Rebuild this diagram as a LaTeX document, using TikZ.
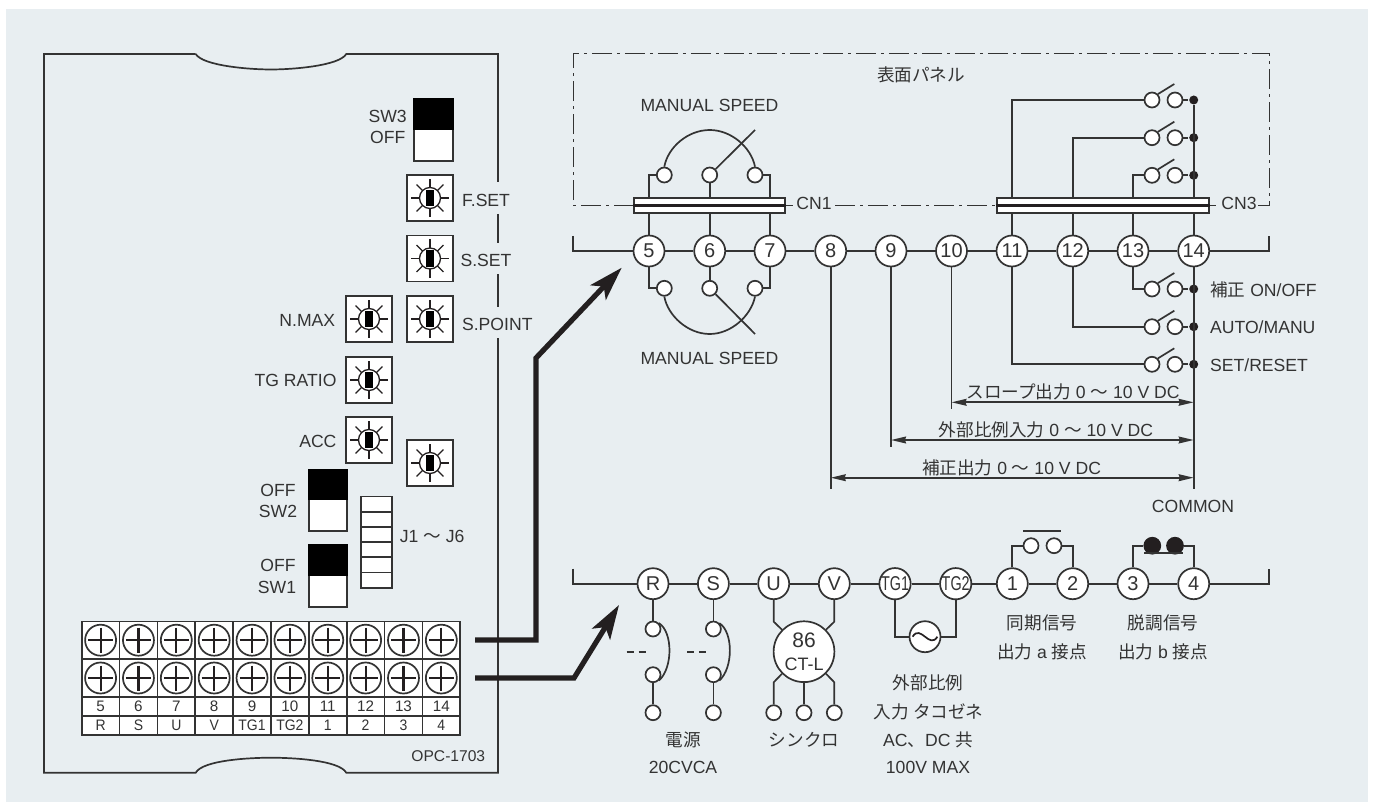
\documentclass[tikz,border=0pt]{standalone}
\usepackage{fontspec}
\usepackage{tikz}
\usetikzlibrary{arrows.meta}
\setmainfont{Liberation Sans}
\newfontfamily\jp{Noto Sans CJK JP}

\definecolor{panelbg}{HTML}{E8EEF1}
\definecolor{wire}{HTML}{333333}
\definecolor{solid}{HTML}{231F20}

\tikzset{
    txt/.style={inner sep=0pt, text=wire, font=\fontsize{8.8}{10}\selectfont},
    term/.style={circle, draw=wire, fill=white, inner sep=0pt, minimum size=15.5pt, text=wire, font=\fontsize{10}{11}\selectfont},
    pin/.style={circle, draw=wire, fill=white, inner sep=0pt, minimum size=7.5pt},
    blackpin/.style={circle, draw=solid, fill=solid, inner sep=0pt, minimum size=8pt},
    joint/.style={circle, fill=solid, inner sep=0pt, minimum size=4.5pt},
    bar/.style={rectangle, draw=wire, fill=white, inner sep=0pt, minimum height=7.5pt},
    cell/.style={rectangle, draw=wire, fill=white, inner sep=0pt, text=wire, minimum width=18.93pt, font=\fontsize{7.6}{8}\selectfont},
    knobbox/.style={rectangle, draw=wire, fill=white, inner sep=0pt, minimum size=23pt},
    dial/.style={circle, draw=solid, line width=.65pt, fill=white, inner sep=0pt, minimum size=10.5pt},
    link/.style={draw=wire},
    bigarrow/.style={draw=solid, line width=2.6pt, -{Stealth[length=17pt, width=10.5pt, inset=4pt]}},
    dim/.style={draw=wire, {Stealth[length=7.5pt, width=3.4pt, inset=.5pt]}-{Stealth[length=7.5pt, width=3.4pt, inset=.5pt]}},
    panelline/.style={draw=wire, line width=.5pt, dash pattern=on 10pt off 2.5pt on 1.5pt off 2.5pt},
}

\newcommand{\knob}[2]{
    \node[knobbox] (#1) at (#2) {};
    \foreach \a in {0,45,...,315}
        \draw[draw=solid, line width=.6pt] (#1) ++(\a:10) -- ++(\a:9);
    \node[dial] (#1d) at (#2) {};
    \fill[solid] (#1) ++(-4,-8) rectangle ++(8,16);
}
\newcommand{\dipsw}[3]{
    \node[rectangle, draw=wire, fill=white, inner sep=0pt, minimum width=19.2pt, minimum height=30.8pt] (#1) at (#2,#3) {};
    \fill[solid] (#1.north west) rectangle ([yshift=-15.6pt]#1.north east);
}
\newcommand{\sw}[3]{
    \node[pin] (#1a) at (1152,#3) {};
    \node[pin] (#1b) at (1175,#3) {};
    \node[joint] (#1c) at (1193.7,#3) {};
    \coordinate (#1l) at (1174.3,#3-16);
    \draw[link] (#1a.north east) -- (#1l);
    \draw[link] (#1b) -- (#1c);
    \draw[link] (t#2) |- (#1a);
}

\begin{document}
\begin{tikzpicture}[x=.5pt, y=-.5pt, line width=.85pt]
        \useasboundingbox (0, 0) rectangle (1375, 802);
        \fill[white] (0, 0) rectangle (1375, 802);
        \fill[panelbg] (6, 9) rectangle (1367.7, 802);

        \draw[link] (195.7, 54) -- (44, 54) -- (44, 772.7) -- (195.7, 772.7) .. controls (203, 760) and (250, 757.7) .. (271, 757.7) .. controls (292, 757.7) and (339, 760) .. (346.3, 772.7) -- (498, 772.7) -- (498, 338);
        \draw[link] (195.7, 54) .. controls (203, 66) and (250, 69.5) .. (271, 69.5) .. controls (292, 69.5) and (339, 66) .. (346.3, 54) -- (498, 54) -- (498, 182);
        \draw[link] (498, 214) -- (498, 242.7);
        \draw[link] (498, 274) -- (498, 306.7);

        \dipsw{swc}{433.5}{130}
        \dipsw{swb}{328}{500.5}
        \dipsw{swa}{328}{576}
        \knob{fset}{430, 198}
        \knob{sset}{430, 258.5}
        \knob{spoint}{430, 319}
        \knob{nmax}{369, 319}
        \knob{tgratio}{369, 380}
        \knob{acc}{369, 440}
        \knob{spare}{430, 463}
        \node[txt] (lswc) at (387.7, 116.7) {SW3};
        \node[txt] (loffc) at (387.7, 137.7) {OFF};
        \node[txt] (lfset) at (486, 200) {F.SET};
        \node[txt] (lsset) at (486, 260) {S.SET};
        \node[txt] (lspoint) at (497.3, 324) {S.POINT};
        \node[txt, anchor=east] (lnmax) at (336, 320.7) {N.MAX};
        \node[txt, anchor=east] (ltgratio) at (337.3, 380.7) {TG RATIO};
        \node[txt, anchor=east] (lacc) at (337.3, 441.7) {ACC};
        \node[txt] (loffb) at (278, 490.7) {OFF};
        \node[txt] (lswb) at (278, 511.7) {SW2};
        \node[txt] (loffa) at (278, 565.7) {OFF};
        \node[txt] (lswa) at (277, 587.3) {SW1};
        \foreach \i in {0,...,5}
            \node[cell, minimum width=15.5pt, minimum height=7.6pt] (jump\i) at (376.8, 504.1 + 15.2 * \i) {};
        \node[txt, anchor=west] (ljump) at (399, 536) {J1 {\jp 〜} J6};

        \foreach \i/\a/\b in {0/5/R, 1/6/S, 2/7/U, 3/8/V, 4/9/TG1, 5/10/TG2, 6/11/1, 7/12/2, 8/13/3, 9/14/4} {
            \node[cell, minimum height=18.85pt] (screwa\i) at (100.6 + 37.86 * \i, 640.2) {};
            \node[cell, minimum height=18.95pt] (screwb\i) at (100.6 + 37.86 * \i, 678) {};
            \node[cell, minimum height=9.35pt] (num\i) at (100.6 + 37.86 * \i, 706.4) {\a};
            \node[cell, minimum height=9.65pt] (sig\i) at (100.6 + 37.86 * \i, 725.4) {\scalebox{.92}[1]{\b}};
            \foreach \r in {a,b} {
                \draw[draw=wire] (screw\r\i) circle [radius=15.5];
                \draw[draw=solid, line width=1.1pt] (screw\r\i) ++(-12.5, 0) -- ++(25, 0);
                \draw[draw=solid, line width=1.1pt] (screw\r\i) ++(0, -12.5) -- ++(0, 25);
            }
        }
        \node[txt, font=\fontsize{7.8}{8}\selectfont, anchor=east] (lopc) at (486, 756) {OPC-1703};

        \coordinate (upa) at (475, 640);
        \coordinate (upb) at (536, 640);
        \coordinate (upc) at (536, 358);
        \coordinate (upd) at (621.7, 267.7);
        \coordinate (loa) at (475, 678);
        \coordinate (lob) at (574, 678);
        \coordinate (loc) at (619, 605);
        \draw[bigarrow] (upa) -- (upb) -- (upc) -- (upd);
        \draw[bigarrow] (loa) -- (lob) -- (loc);

        \draw[panelline] (633.7, 205.5) -- (573, 205.5) -- (573, 54) -- (1269.3, 54) -- (1269.3, 205.5) -- (1258, 205.5);
        \draw[panelline] (785.3, 205.5) -- (792.5, 205.5);
        \draw[panelline] (835, 205.5) -- (996.7, 205.5);
        \draw[panelline] (1208.7, 205.5) -- (1216, 205.5);
        \node[txt] (lpanel) at (921, 75) {\jp 表面パネル};

        \foreach \n/\x in {5/649, 6/709.7, 7/770, 8/830.7, 9/891, 10/951.5, 11/1012, 12/1072.7, 13/1133, 14/1193.7}
            \node[term] (t\n) at (\x, 251) {\n};
        \coordinate (ra) at (573, 236);
        \coordinate (rb) at (573, 251);
        \coordinate (rc) at (1269.3, 251);
        \coordinate (rd) at (1269.3, 236);
        \draw[link] (ra) -- (rb) -- (t5);
        \foreach \a/\b in {5/6, 6/7, 7/8, 8/9, 9/10, 10/11, 11/12, 12/13, 13/14}
            \draw[link] (t\a) -- (t\b);
        \draw[link] (t14) -- (rc) -- (rd);

        \foreach \s/\y in {u/175, d/288.3} {
            \node[pin] (p5\s) at (664.3, \y) {};
            \node[pin] (p6\s) at (709.7, \y) {};
            \node[pin] (p7\s) at (755, \y) {};
            \draw[link] (t5) |- (p5\s);
            \draw[link] (t6) -- (p6\s);
            \draw[link] (t7) |- (p7\s);
        }
        \coordinate (wu) at (755, 130);
        \coordinate (wd) at (755, 334);
        \draw[link] (p5u.north) .. controls (668, 147) and (688, 130) .. (709.7, 130) .. controls (731, 130) and (751, 147) .. (p7u.north);
        \draw[link] (p5d.south) .. controls (668, 316) and (688, 334) .. (709.7, 334) .. controls (731, 334) and (751, 316) .. (p7d.south);
        \draw[link] (p6u.north east) -- (wu);
        \draw[link] (p6d.south east) -- (wd);
        \node[txt] (lmanu) at (709.5, 105) {MANUAL SPEED};
        \node[txt] (lmand) at (709.5, 358) {MANUAL SPEED};

        \sw{ka}{11}{100}
        \sw{kb}{12}{137.7}
        \sw{kc}{13}{175.3}
        \sw{kd}{13}{289}
        \sw{ke}{12}{326.7}
        \sw{kf}{11}{364.3}
        \coordinate (com) at (1193.7, 488.7);
        \draw[link] (t14) -- (kac);
        \draw[link] (t14) -- (com);

        \node[bar, minimum width=75.8pt] (cna) at (709.5, 205.5) {};
        \node[bar, minimum width=106pt] (cnc) at (1102.7, 205.5) {};
        \draw[draw=solid, line width=1.1pt] (cna.west) -- (cna.east);
        \draw[draw=solid, line width=1.1pt] (cnc.west) -- (cnc.east);
        \node[txt] (lcna) at (814, 203) {CN1};
        \node[txt] (lcnc) at (1239, 203) {CN3};
        \node[txt, anchor=west] (lka) at (1209.3, 290) {{\jp 補正} ON/OFF};
        \node[txt, anchor=west] (lkb) at (1209.3, 327.7) {AUTO/MANU};
        \node[txt, anchor=west] (lkc) at (1209.3, 365.7) {SET/RESET};

        \coordinate (e10) at (951.5, 409.3);
        \coordinate (e9) at (891, 447.3);
        \coordinate (e8) at (830.7, 488.7);
        \draw[link] (t10) -- (e10);
        \draw[link] (t9) -- (e9);
        \draw[link] (t8) -- (e8);
        \coordinate (da) at (951.5, 402.3);
        \coordinate (db) at (1193.7, 402.3);
        \coordinate (dc) at (891, 440);
        \coordinate (dd) at (1193.7, 440);
        \coordinate (de) at (830.7, 477.7);
        \coordinate (df) at (1193.7, 477.7);
        \draw[dim] (da) -- (db);
        \draw[dim] (dc) -- (dd);
        \draw[dim] (de) -- (df);
        \node[txt] (lda) at (1073, 392) {{\jp スロープ出力} 0 {\jp 〜} 10 V DC};
        \node[txt] (ldb) at (1046, 430) {{\jp 外部比例入力} 0 {\jp 〜} 10 V DC};
        \node[txt] (ldc) at (1011.5, 468) {{\jp 補正出力} 0 {\jp 〜} 10 V DC};
        \node[txt] (lcom) at (1193, 506) {COMMON};

        \foreach \n/\x/\t in {R/653/R, S/713.4/S, U/773.7/U, V/834.3/V, A/895/\scalebox{.72}[1]{TG1}, B/955.7/\scalebox{.72}[1]{TG2}, a/1012.3/1, b/1072.7/2, c/1133/3, d/1193.7/4}
            \node[term] (b\n) at (\x, 583.7) {\t};
        \coordinate (sa) at (573, 568.7);
        \coordinate (sb) at (573, 583.7);
        \coordinate (sc) at (1269.3, 583.7);
        \coordinate (sd) at (1269.3, 568.7);
        \draw[link] (sa) -- (sb) -- (bR);
        \foreach \a/\b in {R/S, S/U, U/V, V/A, A/B, B/a, a/b, b/c, c/d}
            \draw[link] (b\a) -- (b\b);
        \draw[link] (bd) -- (sc) -- (sd);

        \foreach \n/\x in {R/653, S/713.4} {
            \node[pin] (f\n a) at (\x, 629) {};
            \node[pin] (f\n b) at (\x, 674.7) {};
            \node[pin] (f\n c) at (\x, 712.7) {};
            \draw[link] (b\n) -- (f\n a);
            \draw[link] (f\n b) -- (f\n c);
            \draw[link] (f\n a.north east) .. controls (\x + 20, 632) and (\x + 20, 668) .. (f\n b.south east);
            \coordinate (g\n a) at (\x - 26.3, 651.7);
            \coordinate (g\n b) at (\x - 7.3, 651.7);
            \draw[draw=wire, dash pattern=on 3.6pt off 2.3pt] (g\n a) -- (g\n b);
        }

        \node[circle, draw=wire, fill=white, inner sep=0pt, minimum size=30.4pt, align=center, text=wire, font=\fontsize{9}{11.5}\selectfont] (sync) at (804, 651.7) {{\fontsize{10.5}{11.5}\selectfont 86}\\CT-L};
        \foreach \n/\x in {a/773.7, b/804, c/834.3}
            \node[pin] (y\n) at (\x, 712.7) {};
        \coordinate (ua) at (773.7, 621.7);
        \coordinate (ub) at (834.3, 621.7);
        \coordinate (uc) at (773.7, 682.3);
        \coordinate (ud) at (834.3, 682.3);
        \draw[link] (bU) -- (ua) -- (sync.135);
        \draw[link] (bV) -- (ub) -- (sync.45);
        \draw[link] (sync.225) -- (uc) -- (ya);
        \draw[link] (sync) -- (yb);
        \draw[link] (sync.315) -- (ud) -- (yc);

        \node[term] (ac) at (925, 636.7) {};
        \draw[link] (bA) |- (ac);
        \draw[link] (bB) |- (ac);
        \draw[draw=solid] ([xshift=-6.2pt]ac.center) .. controls +(8, -13) and +(-8, 13) .. ([xshift=6.2pt]ac.center);

        \node[pin] (na) at (1031, 545.7) {};
        \node[pin] (nb) at (1054, 545.7) {};
        \draw[link] (ba) |- (na);
        \draw[link] (bb) |- (nb);
        \coordinate (nc) at (1023, 530.7);
        \coordinate (nd) at (1061, 530.7);
        \draw[link] (nc) -- (nd);
        \node[blackpin] (ma) at (1152.3, 545.7) {};
        \node[blackpin] (mb) at (1175, 545.7) {};
        \draw[link] (bc) |- (ma);
        \draw[link] (bd) |- (mb);
        \coordinate (mc) at (1144, 553.3);
        \coordinate (md) at (1182.7, 553.3);
        \draw[link] (mc) -- (md);

        \node[txt] (lpwa) at (683, 740) {\jp 電源};
        \node[txt] (lpwb) at (683, 767) {20CVCA};
        \node[txt] (lsyn) at (804, 740) {\jp シンクロ};
        \node[txt] (lexa) at (928, 683) {\jp 外部比例};
        \node[txt] (lexb) at (928.7, 712) {{\jp 入力 タコゼネ}};
        \node[txt] (lexc) at (928, 740) {AC{\jp 、}DC {\jp 共}};
        \node[txt] (lexd) at (928, 767) {100V MAX};
        \node[txt] (lnoa) at (1042, 623) {\jp 同期信号};
        \node[txt] (lnob) at (1042, 651.7) {{\jp 出力} a {\jp 接点}};
        \node[txt] (lnca) at (1163, 623) {\jp 脱調信号};
        \node[txt] (lncb) at (1163, 651.7) {{\jp 出力} b {\jp 接点}};
\end{tikzpicture}
\end{document}
